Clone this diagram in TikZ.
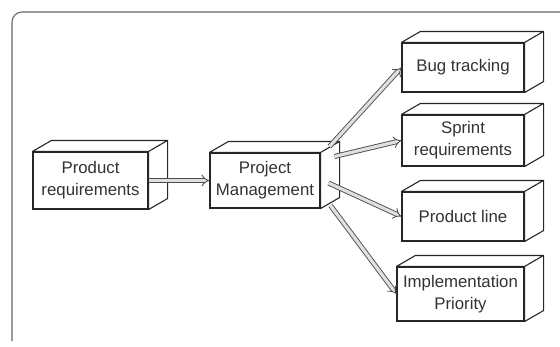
\documentclass[tikz,border=0pt]{standalone}
\usepackage{fontspec}
\setmainfont{Liberation Sans}
\usetikzlibrary{arrows.meta}

\begin{document}
\begin{tikzpicture}[x=1pt, y=-1pt,
  box/.style={draw=black!85, line width=1.1pt, fill=white, align=center,
    text=black!80, inner sep=0pt, font=\fontsize{16.8}{21.7}\selectfont},
  boxline/.style={draw=black!85, line width=1.1pt, line join=round},
  link/.style={draw=black!70, line width=0.9pt, double=black!12,
    double distance=3.2pt, -{Implies[scale=1.3]}}]
  \useasboundingbox (0,0) rectangle (560,346);

  % frame
  \draw[black!60, line width=1.1pt, rounded corners=10pt] (12,341) -- (12,12) -- (570,12);

  % boxes
  \node[box, minimum width=115pt, minimum height=57pt] (prodreq) at (90.5,180.5) {Product\\requirements};
  \node[box, minimum width=110pt, minimum height=55pt] (projmgmt) at (265,180.5) {Project\\Management};
  \node[box, minimum width=122pt, minimum height=49pt] (bug) at (463,67.5) {Bug tracking};
  \node[box, minimum width=122pt, minimum height=51pt] (sprint) at (463,140.5) {Sprint\\requirements};
  \node[box, minimum width=122pt, minimum height=49pt] (prodline) at (463,216.5) {Product line};
  \node[box, minimum width=127pt, minimum height=54pt] (implprio) at (460.5,294) {Implementation\\Priority};

  % depth faces
  \foreach \n in {prodreq,projmgmt,bug,sprint,prodline,implprio}
    \draw[boxline, fill=white] (\n.north west) -- ++(19,-11) -- ([shift={(19,-11)}]\n.north east)
      -- ([shift={(19,-11)}]\n.south east) -- (\n.south east) -- (\n.north east) -- cycle
      (\n.north east) -- ++(19,-11);

  % links
  \draw[link] (prodreq.east) -- (projmgmt.west);
  \draw[link] ([shift={(9,-6)}]projmgmt.north east) -- (bug.west);
  \draw[link] ([shift={(14,4)}]projmgmt.north east) -- (sprint.west);
  \draw[link] ([shift={(8,2.5)}]projmgmt.east) -- (prodline.west);
  \draw[link] ([shift={(10,-3)}]projmgmt.south east) -- (implprio.west);
\end{tikzpicture}
\end{document}
